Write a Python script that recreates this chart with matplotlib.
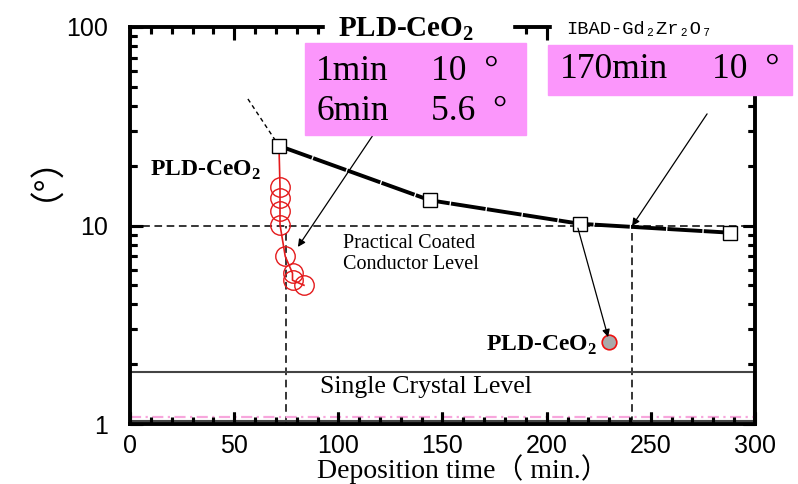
"""Misorientation angle vs deposition time: IBAD-Gd2Zr2O7 and PLD-CeO2 cap layers."""

import matplotlib

matplotlib.use("Agg")

import matplotlib.pyplot as plt  # noqa: E402
import matplotlib.ticker as mticker  # noqa: E402
from matplotlib.patches import Rectangle  # noqa: E402
from matplotlib.transforms import blended_transform_factory  # noqa: E402

plt.rcParams["mathtext.fontset"] = "custom"
plt.rcParams["mathtext.rm"] = "Liberation Serif"
plt.rcParams["mathtext.bf"] = "Liberation Serif:bold"

# -- Data --------------------------------------------------------------------
ibad_time = [71.5, 144, 216, 288]
ibad_angle = [25.2, 13.4, 10.2, 9.2]

extrap_time = [56.6, 71.5]
extrap_angle = [43.4, 25.2]

pld_time = [71.5, 72, 72, 72, 72, 74.5, 78, 78, 83.5]
pld_angle = [25.2, 15.7, 13.7, 11.8, 10.1, 7.0, 5.75, 5.3, 5.0]

pld_on_ibad_time = [230]
pld_on_ibad_angle = [2.6]

practical_level = 10
single_crystal_top = 1.83
single_crystal_bottom = 1.03
pink_level = 1.085
pld_cross_time = 75
ibad_cross_time = 241
ibad_cross_angle = 9.8

# annotation arrows: (text end, arrow head) in data units
arrows = [
    ((116.7, 28.6), (80.6, 7.8)),
    ((277, 36.5), (241, 9.94)),
    ((215, 9.7), (229.5, 2.74)),
]

W, H = 798, 484
PINK = "#fb96fb"
SERIF = "Liberation Serif"


def fx(px):
    return px / W


def fy(py):
    return 1 - py / H


fig = plt.figure(figsize=(W / 100, H / 100), dpi=100)
ax = fig.add_axes([fx(130), fy(424), fx(755) - fx(130), fy(27) - fy(424)])
ax.set_yscale("log")
ax.set_xlim(0, 300)
ax.set_ylim(1, 100)
ax.tick_params(which="both", direction="in", top=True, right=True, width=2.2)
ax.tick_params(which="major", length=9)
ax.tick_params(which="minor", length=5)

# reference levels
ax.axhline(practical_level, color="black", lw=1.1, ls=(0, (5, 3)), zorder=1)
ax.vlines(pld_cross_time, 1, practical_level, color="black", lw=1.1,
          ls=(0, (5, 3)), zorder=1)
ax.vlines(ibad_cross_time, 1, ibad_cross_angle, color="black", lw=1.1,
          ls=(0, (5, 3)), zorder=1)
ax.add_patch(Rectangle((0, single_crystal_bottom), 299.3,
                       single_crystal_top - single_crystal_bottom,
                       fill=False, edgecolor="#444444", lw=1.5, zorder=1))
ax.axhline(pink_level, color="#f7a6dc", lw=1.6, ls=(0, (5, 2, 1, 2)), zorder=1)

# IBAD curve
ax.plot(extrap_time, extrap_angle, color="black", lw=1.0, ls=(0, (3, 2.5)))
ax.plot(ibad_time, ibad_angle, color="black", lw=2.8, ls=(0, (9, 0.35)),
        marker="s", ms=10, mfc="white", mec="black", mew=1.0, zorder=4)

# PLD-CeO2 on IBAD
ax.plot(pld_time, pld_angle, color="#e41a1c", lw=1.2, marker="o", ms=14,
        mfc="none", mec="#e41a1c", mew=1.0,
        markevery=list(range(1, len(pld_time))), zorder=3)
ax.plot(pld_on_ibad_time, pld_on_ibad_angle, ls="none", marker="o", ms=10.5,
        mfc="#aaaaaa", mec="#ee1111", mew=1.2, zorder=4)

for (x0, y0), (x1, y1) in arrows:
    ax.annotate("", xy=(x1, y1), xytext=(x0, y0),
                arrowprops=dict(arrowstyle="-|>", color="black", lw=0.9,
                                mutation_scale=11, shrinkA=0, shrinkB=0),
                zorder=5)

# axes styling
ax.xaxis.set_major_locator(mticker.MultipleLocator(50))
ax.xaxis.set_minor_locator(mticker.MultipleLocator(10))
ax.yaxis.set_major_locator(mticker.LogLocator(base=10, numticks=5))
ax.yaxis.set_minor_locator(mticker.LogLocator(base=10, subs=range(2, 10), numticks=20))
ax.yaxis.set_major_formatter(mticker.FuncFormatter(lambda v, p: f"{v:g}"))
ax.yaxis.set_minor_formatter(mticker.NullFormatter())
ax.tick_params(axis="x", pad=7)
ax.tick_params(axis="y", pad=16)
for spine in ax.spines.values():
    spine.set_linewidth(2.8)
for lab in ax.get_xticklabels() + ax.get_yticklabels():
    lab.set_fontfamily("Liberation Sans")
    lab.set_fontsize(18)

# inward tick marks drawn as plain segments at the locator positions
xt = blended_transform_factory(ax.transData, ax.transAxes)
yt = blended_transform_factory(ax.transAxes, ax.transData)
for locs, frac in [(ax.xaxis.get_majorticklocs(), 0.030),
                   (ax.xaxis.get_minorticklocs(), 0.016)]:
    locs = [v for v in locs if 0 <= v <= 300]
    ax.vlines(locs, 0, frac, transform=xt, color="black", lw=2.2, clip_on=False, zorder=3)
    ax.vlines(locs, 1 - frac, 1, transform=xt, color="black", lw=2.2, clip_on=False, zorder=3)
for locs, frac in [(ax.yaxis.get_majorticklocs(), 0.019),
                   (ax.yaxis.get_minorticklocs(), 0.011)]:
    locs = [v for v in locs if 1 <= v <= 100]
    ax.hlines(locs, 0, frac, transform=yt, color="black", lw=2.2, clip_on=False, zorder=3)
    ax.hlines(locs, 1 - frac, 1, transform=yt, color="black", lw=2.2, clip_on=False, zorder=3)

fig.text(fx(463), fy(469), "Deposition time（ min.）", ha="center", va="center",
         fontsize=20, family=[SERIF, "Noto Sans CJK JP"])
fig.text(fx(28), fy(160), "（°）", rotation=90, ha="center", va="center",
         fontsize=25, family=["Noto Sans CJK JP"])

# legend strip over the top spine
fig.add_artist(Rectangle((fx(325), fy(44)), fx(512) - fx(325), fy(12) - fy(44),
                         transform=fig.transFigure, color="white", zorder=5))
fig.add_artist(Rectangle((fx(552), fy(44)), fx(798) - fx(552), fy(12) - fy(44),
                         transform=fig.transFigure, color="white", zorder=5))
fig.text(fx(338), fy(29), r"PLD-CeO$_\mathbf{2}$", ha="left", va="center",
         fontsize=21, fontweight="bold", family=SERIF, zorder=6)
fig.text(fx(566), fy(30), "IBAD-Gd₂Zr₂O₇", ha="left", va="center",
         fontsize=13.5, family=["Liberation Mono", "DejaVu Sans Mono"], zorder=6)

# pink callouts
fig.add_artist(Rectangle((fx(305), fy(135)), fx(526) - fx(305), fy(43) - fy(135),
                         transform=fig.transFigure, color=PINK, zorder=5))
fig.add_artist(Rectangle((fx(548), fy(95)), fx(792) - fx(548), fy(45) - fy(95),
                         transform=fig.transFigure, color=PINK, zorder=5))
for px, py, s in [(316, 72, "1min"), (431, 72, "10  °"),
                  (316, 112, "6min"), (431, 112, "5.6  °"),
                  (560, 70, "170min"), (712, 70, "10  °")]:
    fig.text(fx(px), fy(py), s, ha="left", va="center", fontsize=25.5,
             family=SERIF, zorder=6)

# labels inside the plot
fig.text(fx(150), fy(170), r"PLD-CeO$_\mathbf{2}$", ha="left", va="center",
         fontsize=17, fontweight="bold", family=SERIF)
fig.text(fx(597), fy(345), r"PLD-CeO$_\mathbf{2}$", ha="right", va="center",
         fontsize=17, fontweight="bold", family=SERIF)
fig.text(fx(343), fy(254), "Practical Coated\nConductor Level", ha="left",
         va="center", fontsize=14.5, family=SERIF, linespacing=1.15)
fig.text(fx(426), fy(387), "Single Crystal Level", ha="center", va="center",
         fontsize=18.5, family=SERIF)

fig.savefig("out.png", dpi=100, facecolor="white")
